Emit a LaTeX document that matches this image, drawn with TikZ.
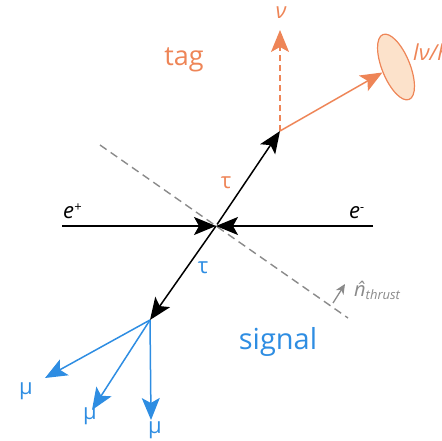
\documentclass[tikz,border=0pt]{standalone}
\usepackage{fontspec}
\setmainfont{Open Sans}
\usetikzlibrary{arrows.meta,shapes.geometric}
\definecolor{tagc}{HTML}{EE8557}
\definecolor{sigc}{HTML}{2E8DE2}
\definecolor{thr}{HTML}{8A8A8A}
\definecolor{ellf}{HTML}{FCE2CB}
\tikzset{
  tip/.style={-{Stealth[length=22pt,width=18pt,inset=5pt]}},
  blk/.style={line width=1.5pt,tip},
  org/.style={line width=1.5pt,tagc,tip},
  blu/.style={line width=1.5pt,sigc,tip},
  lbl/.style={inner sep=0pt,font=\fontsize{22}{22}\selectfont},
}
\begin{document}
\begin{tikzpicture}[x=1pt,y=-1pt]
\useasboundingbox (0,0) rectangle (441,441);
% points
\coordinate (c) at (216,226);
\coordinate (ep) at (62,226);
\coordinate (em) at (373,226);
\coordinate (t1) at (100,145);
\coordinate (t2) at (348,318);
\coordinate (tt) at (280,131);
\coordinate (tb) at (150,320);
\coordinate (nu) at (280,30);
\coordinate (m1) at (45,378);
\coordinate (m2) at (92,410);
\coordinate (m3) at (151,420);
\coordinate (na) at (333,303);
\coordinate (nb) at (345,284);
\node[ellipse,draw=tagc,fill=ellf,line width=1.2pt,minimum width=28pt,minimum height=70pt,rotate=22,inner sep=0pt] (ell) at (396,67) {};
% thrust axis
\draw[thr,line width=1.4pt,dash pattern=on 8pt off 5pt] (t1) -- (t2);
\draw[thr,line width=1.3pt,-{Stealth[length=10pt,width=9pt,inset=3pt]}] (na) -- (nb);
% beams
\draw[blk] (ep) -- (c);
\draw[blk] (em) -- (c);
% taus
\draw[blk,shorten <=2pt] (c) -- (tt);
\draw[blk] (c) -- (tb);
% tag side
\draw[tagc,line width=1.4pt,dash pattern=on 6pt off 4pt,tip] (tt) -- (nu);
\draw[org] (tt) -- (ell.west);
% signal side
\draw[blu] (tb) -- (m1);
\draw[blu] (tb) -- (m2);
\draw[blu] (tb) -- (m3);
% labels
\node[lbl,anchor=base west] (lep) at (63,218) {\itshape e\raisebox{0.55ex}{\fontsize{13}{13}\selectfont+}};
\node[lbl,anchor=base west] (lem) at (349,218) {\itshape e\raisebox{0.55ex}{\fontsize{13}{13}\selectfont-}};
\node[lbl,text=tagc] (ltau1) at (226,183) {τ};
\node[lbl,text=sigc] (ltau2) at (203,268) {τ};
\node[lbl,text=tagc] (lnu) at (281,13) {\itshape ν};
\node[lbl,text=tagc,anchor=west] (lell) at (413,52) {\itshape lν/h};
\node[inner sep=0pt,text=tagc,font=\fontsize{27}{27}\selectfont] (ltag) at (184,60) {tag};
\node[inner sep=0pt,text=sigc,font=\fontsize{29}{29}\selectfont] (lsig) at (278,342) {signal};
\node[inner sep=0pt,text=thr,anchor=base west,font=\fontsize{20}{20}\selectfont] (lthr) at (354,296) {\itshape\^{n}\raisebox{-0.3ex}{\fontsize{13}{13}\selectfont thrust}};
\node[lbl,text=sigc] (lm1) at (26,391) {μ};
\node[lbl,text=sigc] (lm2) at (90,416) {μ};
\node[lbl,text=sigc] (lm3) at (155,430) {μ};
\end{tikzpicture}
\end{document}
